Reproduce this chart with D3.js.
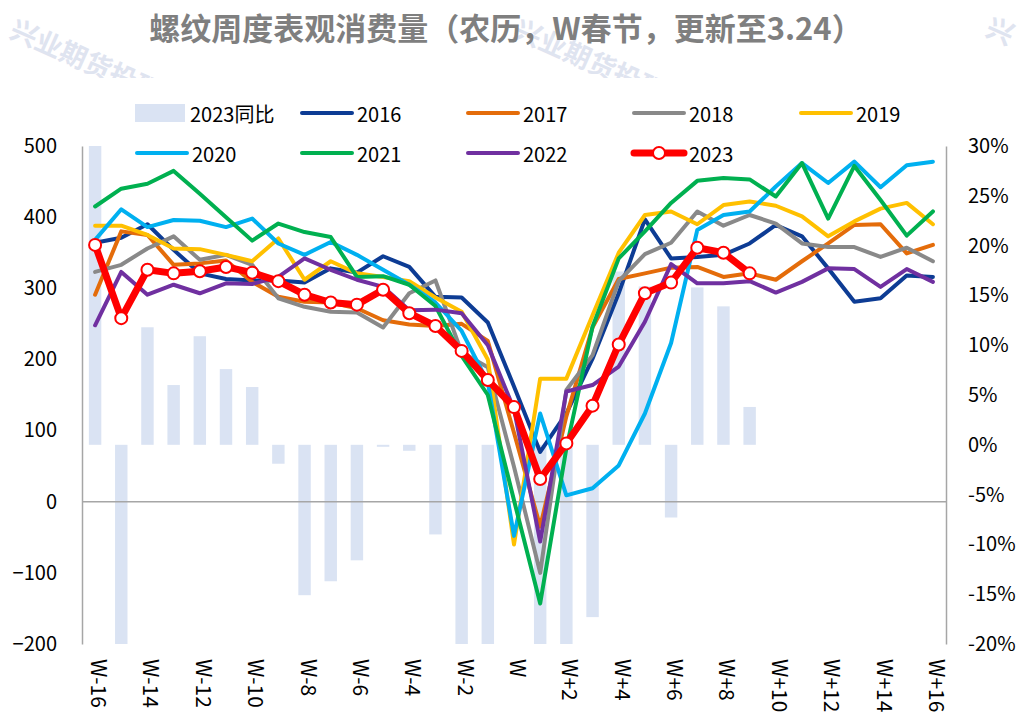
<!DOCTYPE html>
<html>
<head>
<meta charset="utf-8">
<script src="https://cdn.jsdelivr.net/npm/d3@7"></script>
<style>
  html, body { margin: 0; padding: 0; background: #fff; }
  svg { display: block; }
</style>
</head>
<body>
<svg id="chart" width="1025" height="721"></svg>
<script>
// Weeks relative to the Spring Festival week (lunar calendar alignment)
const weeks = ["W-16","W-15","W-14","W-13","W-12","W-11","W-10","W-9","W-8","W-7","W-6",
  "W-5","W-4","W-3","W-2","W-1","W","W+1","W+2","W+3","W+4","W+5","W+6","W+7","W+8",
  "W+9","W+10","W+11","W+12","W+13","W+14","W+15","W+16"];
const weekTicks = ["W-16","W-14","W-12","W-10","W-8","W-6","W-4","W-2","W",
  "W+2","W+4","W+6","W+8","W+10","W+12","W+14","W+16"];
const leftTicks = [-200, -100, 0, 100, 200, 300, 400, 500];
const rightTicks = [-20, -15, -10, -5, 0, 5, 10, 15, 20, 25, 30];

// Weekly apparent consumption of rebar (10k t)
const s2016 = [364,371,390,354,321,313,311,311,308,328,322,345,330,288,287,252,162,70,124,201,293,397,342,344,347,363,389,373,328,281,286,318,316];
const s2017 = [291,380,375,333,335,339,309,288,281,280,272,255,249,247,250,226,97,-35,120,245,313,321,329,330,316,321,312,338,363,389,390,349,361];
const s2018 = [323,333,356,373,340,347,333,286,274,267,266,245,293,311,210,189,49,-100,157,206,310,348,364,408,388,403,391,363,358,358,344,357,338];
const s2019 = [388,388,375,356,355,347,338,370,312,338,321,316,310,287,267,200,-60,173,173,262,350,403,408,390,417,422,416,401,373,394,412,420,390];
const s2020 = [368,411,386,396,395,386,398,363,347,365,347,326,305,280,240,168,-48,124,9,19,51,124,223,382,403,408,443,476,448,478,442,473,478];
const s2021 = [415,440,447,465,433,400,367,391,379,372,316,317,305,275,205,150,2,-143,75,246,342,380,420,451,455,453,429,476,398,472,424,374,408];
const s2022 = [248,323,291,305,293,307,306,316,342,326,312,302,269,270,265,220,130,-56,155,164,190,253,334,307,307,310,294,309,328,327,302,327,309];
const s2023 = [361,258,326,321,324,330,322,310,291,280,277,298,265,247,212,171,133,32,82,135,221,293,308,357,350,321,null,null,null,null,null,null,null];
// 2023 year-on-year change, %
const yoy2023 = [30,-20,11.8,6.0,10.9,7.6,5.8,-1.9,-15.1,-13.7,-11.6,-0.2,-0.6,-9.0,-20,-20,0,-20,-20,-17.3,17.4,15.9,-7.3,15.8,13.9,3.8,null,null,null,null,null,null,null];

const lineSeries = [
  { name: "2016", values: s2016, color: "#0d3c94" },
  { name: "2017", values: s2017, color: "#e46c0a" },
  { name: "2018", values: s2018, color: "#898989" },
  { name: "2019", values: s2019, color: "#ffc000" },
  { name: "2020", values: s2020, color: "#00b0f0" },
  { name: "2021", values: s2021, color: "#00b050" },
  { name: "2022", values: s2022, color: "#7030a0" },
  { name: "2023", values: s2023, color: "#ff0000", marker: true }
];
const barColor = "#dae3f3";
const axisColor = "#a6a6a6";
const fontStack = "'Noto Sans CJK SC', 'Noto Sans', sans-serif";

const svg = d3.select("#chart");
const plot = { left: 82, right: 946, top: 146, bottom: 644 };

// Watermark
svg.append("clipPath").attr("id", "wm-clip")
  .append("rect").attr("x", 0).attr("y", 0).attr("width", 1025).attr("height", 78);
const wm = svg.append("g").attr("clip-path", "url(#wm-clip)");
[[18, 14, "兴业期货投研"], [522, 14, "兴业期货投研"], [994, 12, "兴"]].forEach(([wx, wy, t]) => {
  wm.append("text")
    .attr("transform", `translate(${wx},${wy}) rotate(24)`)
    .attr("dominant-baseline", "hanging")
    .style("font-family", fontStack)
    .style("font-size", "27px")
    .style("font-weight", "700")
    .style("fill", "#dfe4f0")
    .text(t);
});

// Title
svg.append("text")
  .attr("x", 506).attr("y", 40)
  .attr("text-anchor", "middle")
  .style("font-family", fontStack)
  .style("font-size", "31px")
  .style("font-weight", "700")
  .style("fill", "#7f7f7f")
  .text("螺纹周度表观消费量（农历，W春节，更新至3.24）");

// Scales
const x = d3.scaleBand().domain(weeks).range([plot.left, plot.right]);
const bw = x.bandwidth();
const yL = d3.scaleLinear().domain([-200, 500]).range([plot.bottom, plot.top]);
const yR = d3.scaleLinear().domain([-20, 30]).range([plot.bottom, plot.top]).clamp(true);
const cx = w => x(w) + bw / 2;

// YoY bars (right axis)
const barW = bw * 0.475;
svg.append("g").selectAll("rect")
  .data(weeks.map((w, i) => ({ w, v: yoy2023[i] })).filter(d => d.v != null))
  .join("rect")
  .attr("x", d => cx(d.w) - barW / 2)
  .attr("width", barW)
  .attr("y", d => Math.min(yR(d.v), yR(0)))
  .attr("height", d => Math.abs(yR(d.v) - yR(0)))
  .attr("fill", barColor);

// Axes
const axisL = svg.append("g")
  .attr("transform", `translate(${plot.left},0)`)
  .call(d3.axisLeft(yL).tickValues(leftTicks).tickSize(0).tickSizeOuter(0).tickPadding(25));
const axisR = svg.append("g")
  .attr("transform", `translate(${plot.right},0)`)
  .call(d3.axisRight(yR).tickValues(rightTicks).tickSize(0).tickSizeOuter(0).tickPadding(22)
    .tickFormat(d => d + "%"));
[axisL, axisR].forEach(g => {
  g.select(".domain").attr("stroke", axisColor).attr("stroke-width", 1.5);
  g.selectAll("text")
    .style("font-family", fontStack)
    .style("font-size", "20px")
    .style("fill", "#000");
});

// Zero line of the left axis
svg.append("line")
  .attr("x1", plot.left).attr("x2", plot.right)
  .attr("y1", yL(0)).attr("y2", yL(0))
  .attr("stroke", axisColor).attr("stroke-width", 1.5);

// Category labels, rotated
const axisX = svg.append("g")
  .attr("transform", `translate(0,${plot.bottom})`)
  .call(d3.axisBottom(x).tickValues(weekTicks).tickSize(0).tickSizeOuter(0));
axisX.select(".domain").remove();
axisX.selectAll("text")
  .attr("transform", "rotate(90)")
  .attr("x", 15).attr("y", -5).attr("dy", null)
  .attr("text-anchor", "start")
  .attr("dominant-baseline", "central")
  .style("font-family", fontStack)
  .style("font-size", "21px")
  .style("fill", "#000");

// Lines
const line = d3.line()
  .defined(d => d != null)
  .x((d, i) => cx(weeks[i]))
  .y(d => yL(d));

const linesG = svg.append("g");
lineSeries.forEach(s => {
  linesG.append("path")
    .datum(s.values)
    .attr("d", line)
    .attr("fill", "none")
    .attr("stroke", s.color)
    .attr("stroke-width", s.marker ? 7 : 4)
    .attr("stroke-linejoin", "round")
    .attr("stroke-linecap", "round");
  if (s.marker) {
    linesG.append("g").selectAll("circle")
      .data(s.values.map((v, i) => ({ v, w: weeks[i] })).filter(d => d.v != null))
      .join("circle")
      .attr("cx", d => cx(d.w))
      .attr("cy", d => yL(d.v))
      .attr("r", 6)
      .attr("fill", "#fff")
      .attr("stroke", s.color)
      .attr("stroke-width", 2);
  }
});

// Legend
const legendItems = [
  { label: "2023同比", type: "bar", color: barColor, x: 135, y: 113 },
  { label: "2016", type: "line", color: "#0d3c94", x: 300, y: 113 },
  { label: "2017", type: "line", color: "#e46c0a", x: 466, y: 113 },
  { label: "2018", type: "line", color: "#898989", x: 632, y: 113 },
  { label: "2019", type: "line", color: "#ffc000", x: 799, y: 113 },
  { label: "2020", type: "line", color: "#00b0f0", x: 135, y: 153 },
  { label: "2021", type: "line", color: "#00b050", x: 300, y: 153 },
  { label: "2022", type: "line", color: "#7030a0", x: 466, y: 153 },
  { label: "2023", type: "marker", color: "#ff0000", x: 632, y: 153 }
];
const legend = svg.append("g");
legendItems.forEach(it => {
  const g = legend.append("g").attr("transform", `translate(${it.x},${it.y})`);
  if (it.type === "bar") {
    g.append("rect").attr("x", 0).attr("y", -9).attr("width", 50).attr("height", 18).attr("fill", it.color);
  } else {
    g.append("line").attr("x1", 2).attr("x2", 52).attr("y1", 0).attr("y2", 0)
      .attr("stroke", it.color).attr("stroke-width", it.type === "marker" ? 7 : 4)
      .attr("stroke-linecap", "round");
    if (it.type === "marker") {
      g.append("circle").attr("cx", 27).attr("cy", 0).attr("r", 6)
        .attr("fill", "#fff").attr("stroke", it.color).attr("stroke-width", 2);
    }
  }
  g.append("text")
    .attr("x", it.type === "bar" ? 55 : 57).attr("y", 0)
    .attr("dominant-baseline", "central")
    .style("font-family", fontStack)
    .style("font-size", "20px")
    .style("fill", "#000")
    .text(it.label);
});
</script>
</body>
</html>
